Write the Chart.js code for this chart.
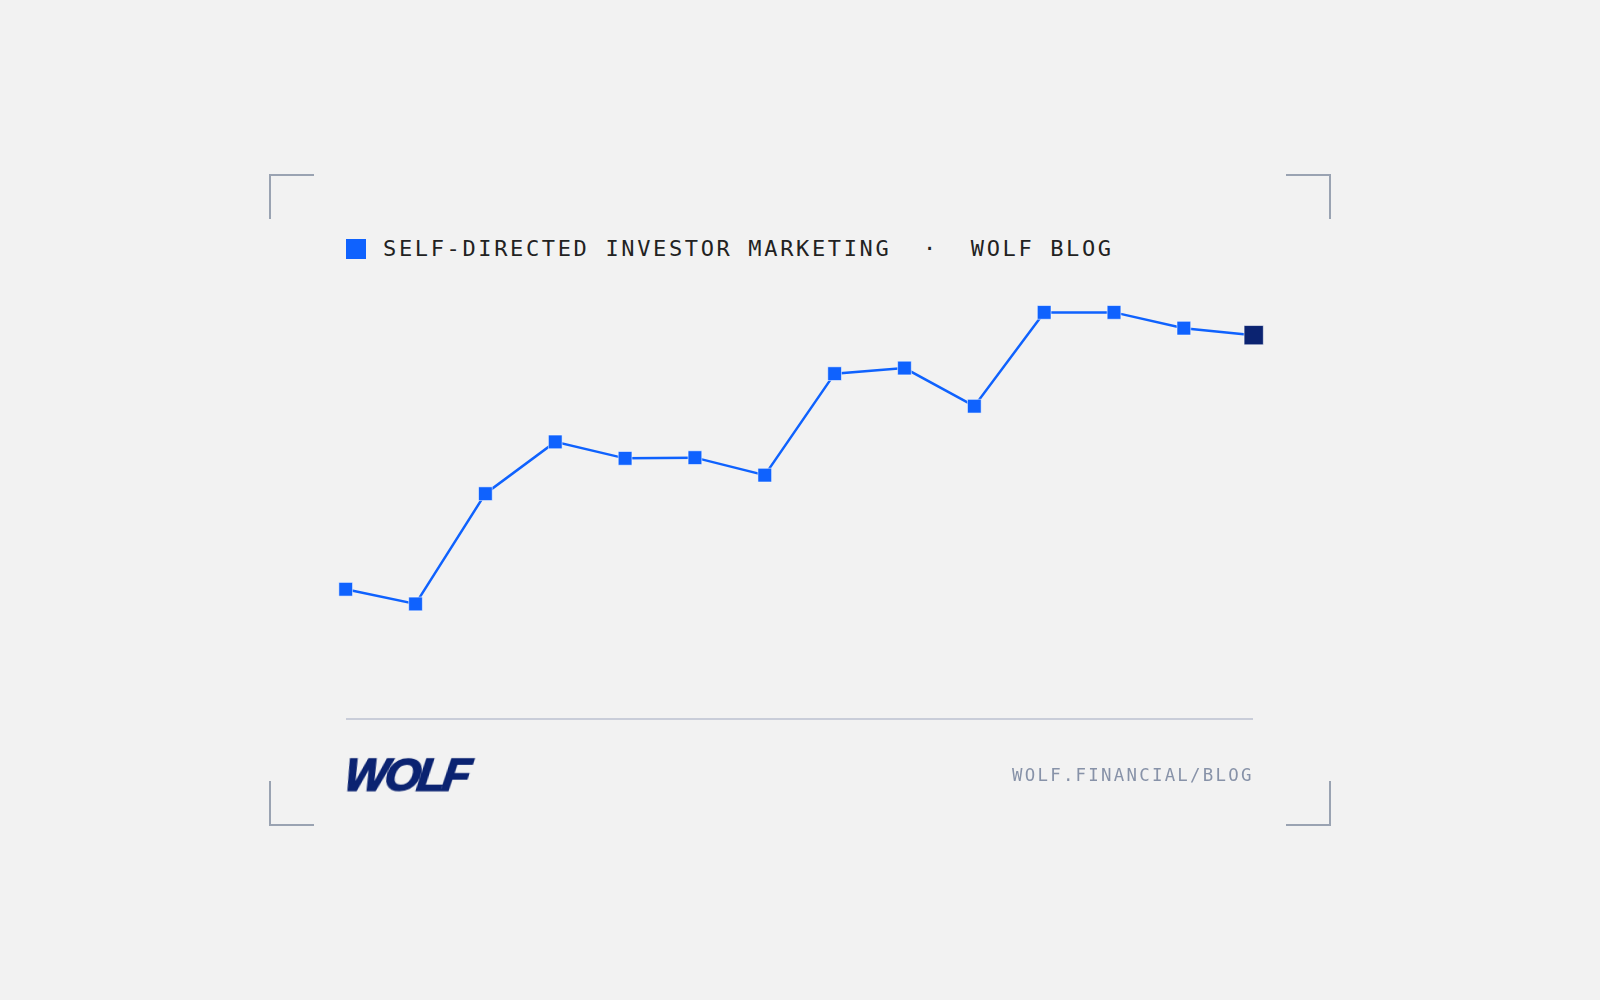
<!DOCTYPE html>
<html lang="en">
<head>
<meta charset="utf-8">
<title>Self-Directed Investor Marketing · Wolf Blog</title>
<script src="https://cdn.jsdelivr.net/npm/chart.js@4.4.1/dist/chart.umd.min.js"></script>
<style>
    html, body {
        margin: 0;
        padding: 0;
        width: 1600px;
        height: 1000px;
        background: #f2f2f2;
        overflow: hidden;
    }
    .frame {
        position: absolute;
        background: #9aa3b2;
    }
    #chartCanvas {
        position: absolute;
        left: 0;
        top: 0;
        width: 1600px;
        height: 1000px;
    }
    .legend-box {
        position: absolute;
        left: 346px;
        top: 239px;
        width: 20px;
        height: 20px;
        background: #0f62fe;
    }
    .legend-text {
        position: absolute;
        left: 383px;
        top: 238px;
        font-family: "DejaVu Sans Mono", monospace;
        font-size: 22px;
        line-height: 22px;
        letter-spacing: 2.64px;
        color: #222222;
        white-space: pre;
    }
    .divider {
        position: absolute;
        left: 346px;
        top: 718px;
        width: 907px;
        height: 2px;
        background: #c9cdd9;
    }
    .logo {
        position: absolute;
        left: 345px;
        top: 752px;
        font-family: "Liberation Sans", Arial, sans-serif;
        font-weight: 700;
        font-style: italic;
        font-size: 46px;
        line-height: 46px;
        letter-spacing: -3.2px;
        color: #0b2371;
        -webkit-text-stroke: 1.6px #0b2371;
        transform: skewX(-8deg);
    }
    .url {
        position: absolute;
        left: 1012px;
        top: 767px;
        font-family: "DejaVu Sans Mono", monospace;
        font-size: 17.4px;
        line-height: 17.4px;
        letter-spacing: 2.25px;
        color: #8792a8;
        white-space: pre;
    }
</style>
</head>
<body>
    <!-- corner brackets -->
    <div class="frame" style="left:269px;top:174px;width:45px;height:2px"></div>
    <div class="frame" style="left:269px;top:174px;width:2px;height:45px"></div>
    <div class="frame" style="left:1286px;top:174px;width:45px;height:2px"></div>
    <div class="frame" style="left:1329px;top:174px;width:2px;height:45px"></div>
    <div class="frame" style="left:269px;top:824px;width:45px;height:2px"></div>
    <div class="frame" style="left:269px;top:781px;width:2px;height:45px"></div>
    <div class="frame" style="left:1286px;top:824px;width:45px;height:2px"></div>
    <div class="frame" style="left:1329px;top:781px;width:2px;height:45px"></div>

    <div class="legend-box"></div>
    <div class="legend-text">SELF-DIRECTED INVESTOR MARKETING  ·  WOLF BLOG</div>

    <canvas id="chartCanvas" width="1600" height="1000"></canvas>

    <div class="divider"></div>
    <div class="logo">WOLF</div>
    <div class="url">WOLF.FINANCIAL/BLOG</div>

<script>
// Data (relative index, no axis shown)
const periods = ['P1', 'P2', 'P3', 'P4', 'P5', 'P6', 'P7', 'P8', 'P9', 'P10', 'P11', 'P12', 'P13', 'P14'];
const indexValues = [14.5, 10.3, 41.8, 56.6, 51.9, 52.1, 47.1, 76.1, 77.7, 66.8, 93.6, 93.6, 89.1, 87.1];
const yRange = [0, 100];

// Colors
const colors = {
    blue: '#0f62fe',
    navy: '#0b2371',
    halo: 'rgba(255,255,255,0.55)'
};

document.addEventListener('DOMContentLoaded', function() {
    createTrendChart();
});

// Line chart - last point highlighted in navy
function createTrendChart() {
    const ctx = document.getElementById('chartCanvas').getContext('2d');
    const last = indexValues.length - 1;

    new Chart(ctx, {
        type: 'line',
        data: {
            labels: periods,
            datasets: [{
                label: 'Self-directed investor marketing',
                data: indexValues,
                borderColor: colors.blue,
                borderWidth: 2.5,
                tension: 0,
                fill: false,
                clip: false,
                pointStyle: 'rect',
                pointRadius: indexValues.map((v, i) => i === last ? 13.6 : 9.7),
                pointBackgroundColor: indexValues.map((v, i) => i === last ? colors.navy : colors.blue),
                pointBorderColor: colors.halo,
                pointBorderWidth: 1
            }]
        },
        options: {
            responsive: false,
            animation: false,
            devicePixelRatio: 1,
            layout: {
                padding: { left: 345.7, right: 346.3, top: 290, bottom: 360 }
            },
            plugins: {
                legend: { display: false },
                tooltip: { enabled: false }
            },
            scales: {
                x: { display: false },
                y: { display: false, min: yRange[0], max: yRange[1] }
            }
        }
    });
}
</script>
</body>
</html>
